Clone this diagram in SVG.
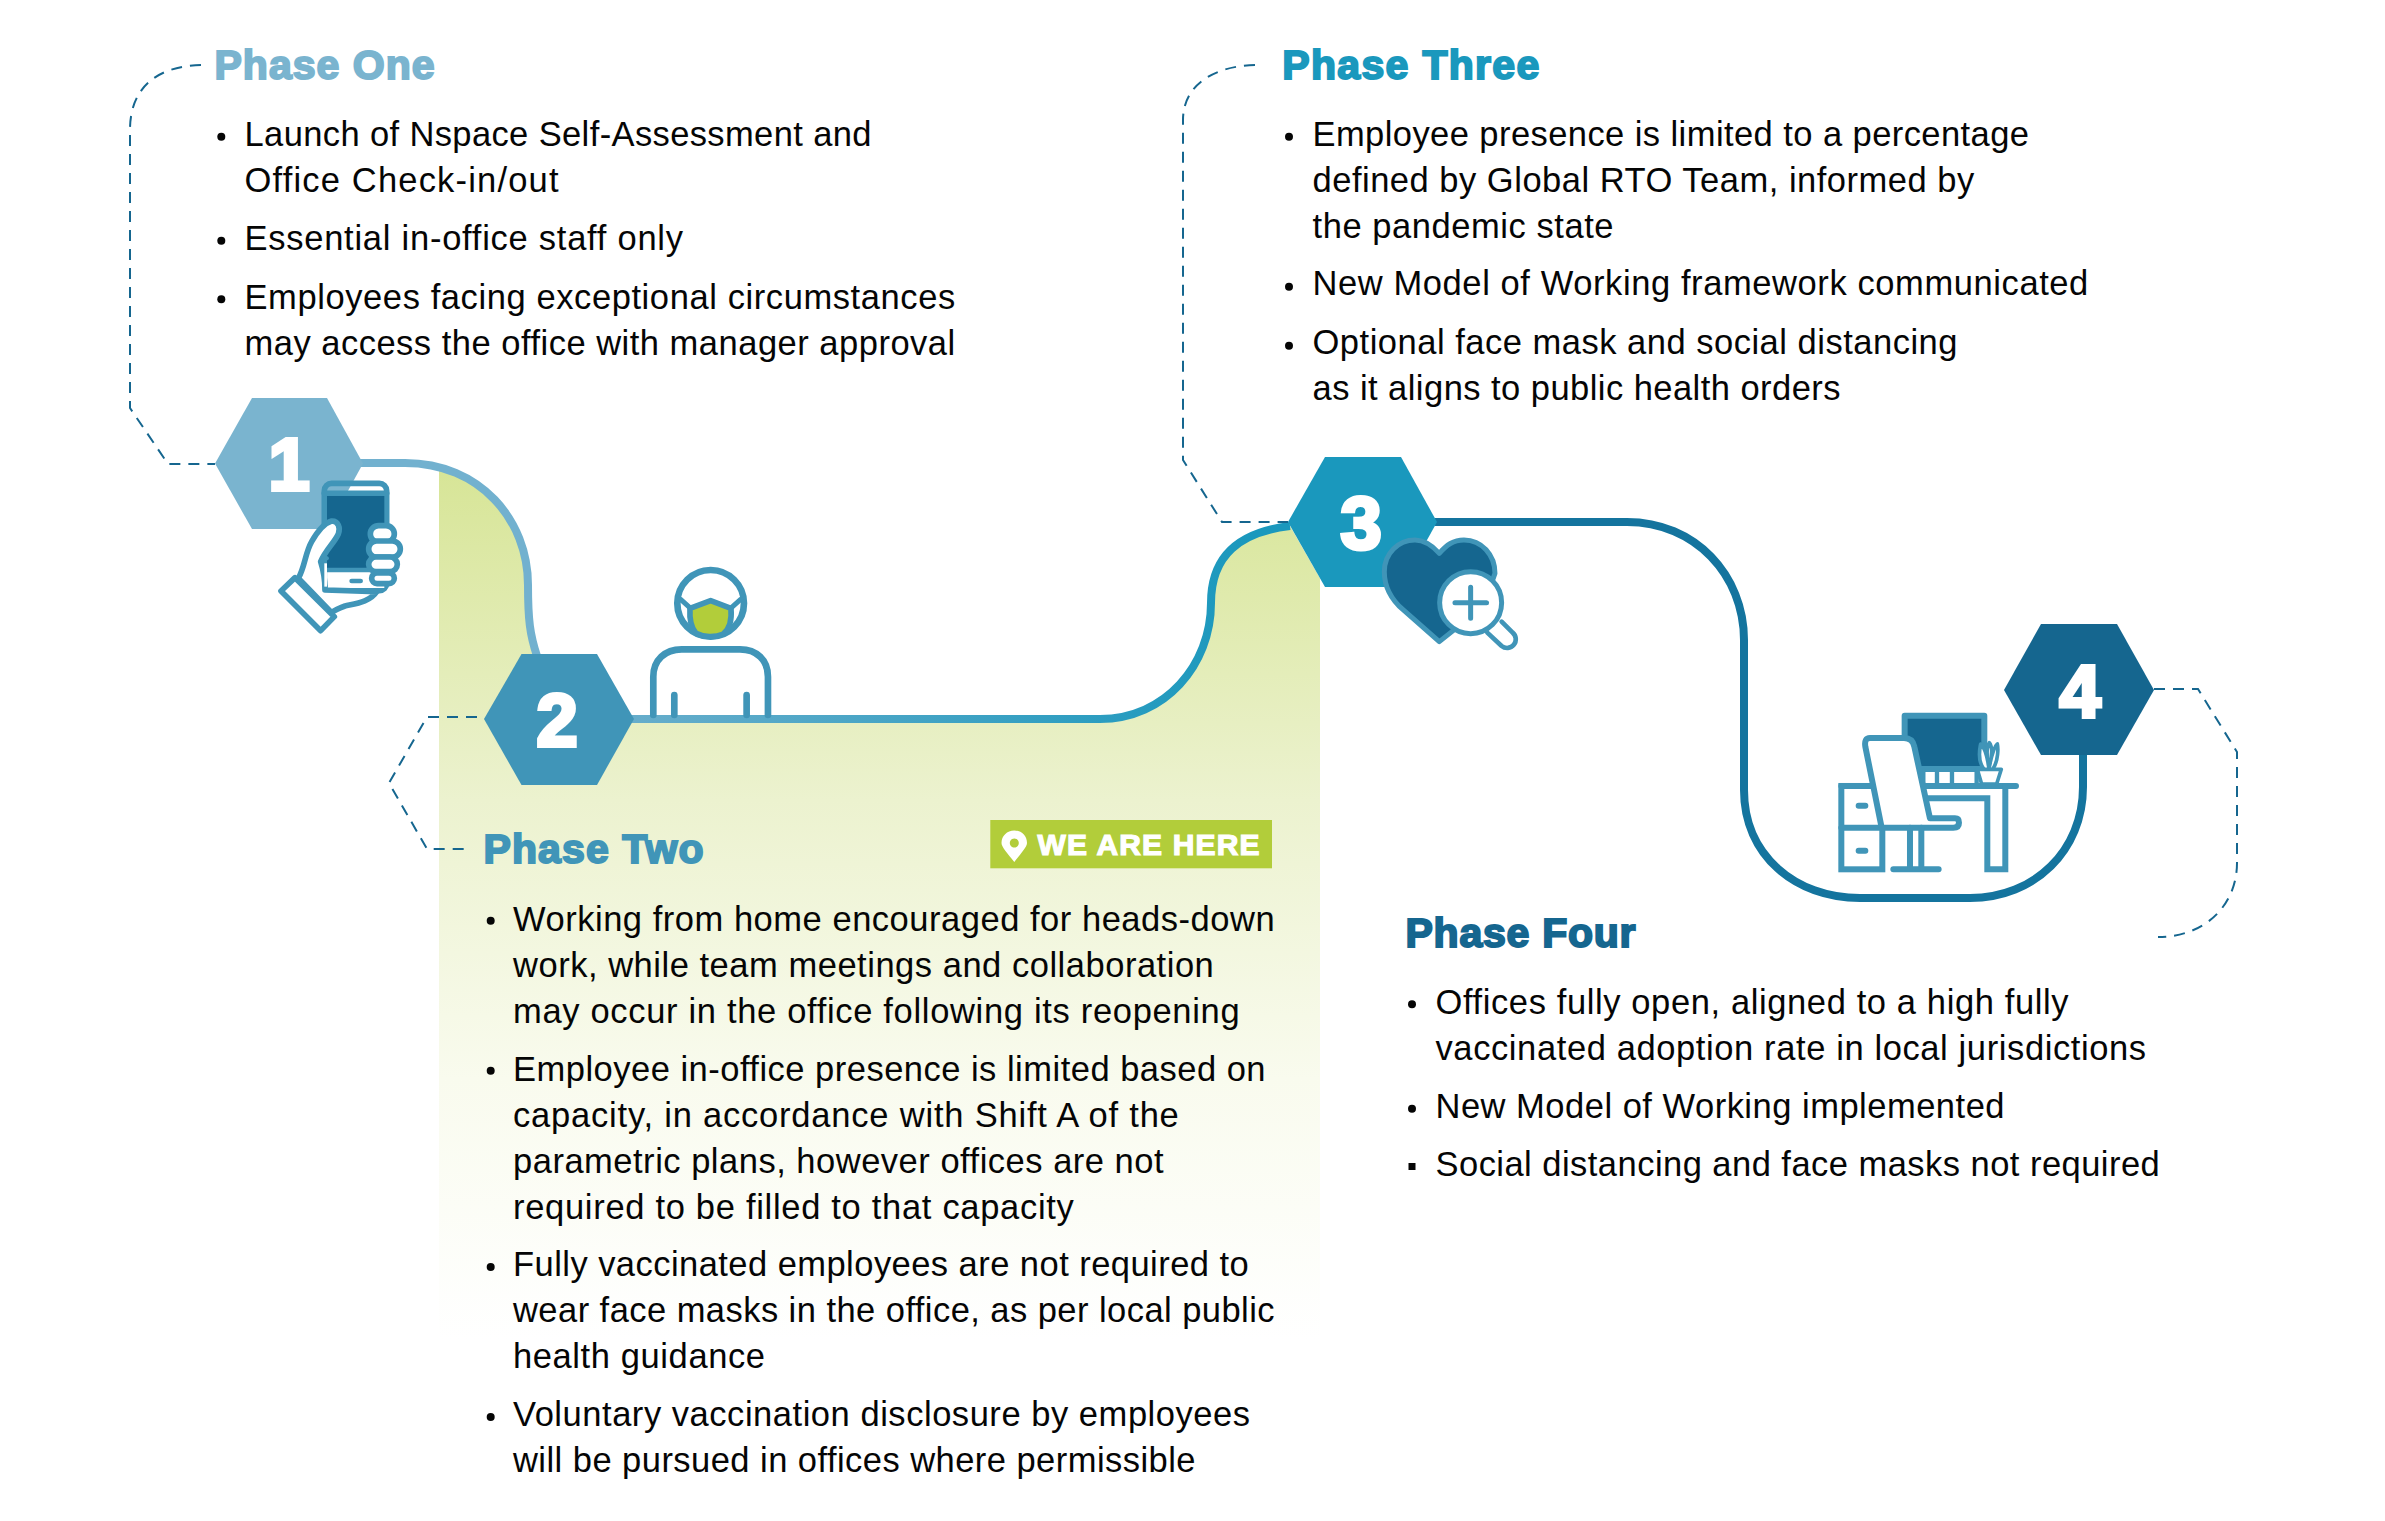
<svg xmlns="http://www.w3.org/2000/svg" width="2385" height="1521" viewBox="0 0 2385 1521">
<style>
text{font-family:"Liberation Sans",Arial,sans-serif}
.b{font-size:34.5px;fill:#050505}
.h{font-size:41px;font-weight:700;stroke-width:2px}
.d{font-size:74px;font-weight:700;fill:#fff;stroke:#fff;stroke-width:4px;text-anchor:middle}
.dot{fill:#050505}
.dash{fill:none;stroke:#15668f;stroke-width:2;stroke-dasharray:11 8}
.conn{fill:none;stroke-width:8}
.ic{stroke:#4095b8;stroke-linejoin:round;stroke-linecap:round}
</style>
<defs>
<linearGradient id="gr" gradientUnits="userSpaceOnUse" x1="0" y1="470" x2="0" y2="1340">
<stop offset="0" stop-color="#d7e597"/><stop offset=".38" stop-color="#ecf2cf"/><stop offset=".7" stop-color="#f9fbee"/><stop offset="1" stop-color="#fff"/>
</linearGradient>
<linearGradient id="c23" gradientUnits="userSpaceOnUse" x1="634" y1="0" x2="1250" y2="0">
<stop offset="0" stop-color="#66adcb"/><stop offset="1" stop-color="#1a98bd"/>
</linearGradient>
<clipPath id="gc"><rect x="439" y="400" width="881" height="1000"/></clipPath>
</defs>
<path clip-path="url(#gc)" fill="url(#gr)" d="M405 465C480 465 528 520 528 585C528 620 530 635 537 656L634 719H1100C1165 719 1211 665 1211 603C1211 555 1240 532 1290 526L1325 587V1400H439V465Z"/>
<g id="connectors">
<path class="conn" stroke="#72b1cf" d="M360 463H405C480 463 528 520 528 585C528 620 530 635 537 656"/>
<path class="conn" stroke="url(#c23)" d="M630 719H1100C1165 719 1211 665 1211 603C1211 555 1240 532 1290 526"/>
<path class="conn" stroke="#14749e" d="M1435 522H1627C1695 522 1744 575 1744 640V790C1744 855 1795 898 1860 898H1970C2035 898 2083 850 2083 787V752"/>
<path class="dash" d="M201 65C160 66 130 85 130 130V408L168 464H215"/>
<path class="dash" d="M477 717H427L389 783L427 849H470"/>
<path class="dash" d="M1255 65C1214 66 1183 85 1183 120V460L1222 522H1288"/>
<path class="dash" d="M2154 689H2198L2237 752V863C2237 905 2205 937 2158 937"/>
</g>
<g id="node-1">
<polygon fill="#7ab4cf" points="215,463.5 252,398 327,398 363,463.5 327,529 252,529"/>
<text class="d" x="289" y="490">1</text>
<g transform="translate(230 390) scale(.3333)" class="ic">
<rect x="283" y="280" width="187" height="322" rx="22" fill="none" stroke-width="17"/>
<path d="M283 310H470" fill="none" stroke-width="17"/>
<rect x="291" y="318" width="172" height="222" fill="#15668f" stroke="none"/>
<path d="M293 540H463V594H293Z" fill="#fff" stroke="none"/>
<path d="M283 540H470" fill="none" stroke-width="14"/>
<path d="M365 573H392" fill="none" stroke-width="14"/>
<path d="M205 565C225 530 225 490 245 455C262 425 280 400 305 393C325 392 332 415 325 432C312 460 288 478 272 515C280 540 285 560 285 600L440 605C420 635 380 640 345 648C325 655 315 660 305 668Z" fill="#fff" stroke-width="17"/>
<rect x="283" y="520" width="8" height="70" fill="#fff" stroke="none"/>
<path d="M272 515L291 505" fill="none" stroke-width="12"/>
<rect x="421" y="407" width="72" height="50" rx="25" fill="#fff" stroke-width="17"/>
<rect x="416" y="453" width="95" height="48" rx="24" fill="#fff" stroke-width="17"/>
<rect x="416" y="501" width="86" height="44" rx="22" fill="#fff" stroke-width="17"/>
<rect x="425" y="549" width="68" height="32" rx="16" fill="#fff" stroke-width="17"/>
<polygon points="153,603 195,563 313,680 272,722" fill="#fff" stroke-width="17"/>
</g>
<text class="h" x="214.5" y="79.3" fill="#7ab4cf" stroke="#7ab4cf" textLength="220">Phase One</text>
<circle class="dot" cx="221.3" cy="136.7" r="4"/>
<circle class="dot" cx="221.3" cy="240.7" r="4"/>
<circle class="dot" cx="221.3" cy="299.3" r="4"/>
<text class="b" x="244.5" y="146" textLength="627">Launch of Nspace Self-Assessment and</text>
<text class="b" x="244.5" y="192" textLength="314">Office Check-in/out</text>
<text class="b" x="244.5" y="250" textLength="438.5">Essential in-office staff only</text>
<text class="b" x="244.5" y="308.7" textLength="710.7">Employees facing exceptional circumstances</text>
<text class="b" x="244.5" y="354.7" textLength="710.7">may access the office with manager approval</text>
</g>
<g id="node-2">
<polygon fill="#4095b8" points="484,719 521.5,654 597,654 634,719 597,785 521.5,785"/>
<text class="d" x="557" y="745.5">2</text>
<g transform="translate(360 540) scale(.3333)" class="ic" fill="none" stroke-width="20">
<circle cx="1052" cy="190" r="100"/>
<path d="M962 178L992 205M1142 178L1112 205" stroke-width="15"/>
<path d="M990 205L1052 182L1113 205C1116 240 1108 268 1090 282C1065 293 1030 292 1008 280C995 265 988 240 990 205Z" fill="#b2cd3a" stroke-width="17"/>
<path d="M880 525V410C880 360 915 328 965 328H1140C1190 328 1224 360 1224 410V525"/>
<path d="M943 465V525M1160 465V525"/>
</g>
<text class="h" x="483.5" y="863" fill="#4095b8" stroke="#4095b8" textLength="220">Phase Two</text>
<rect x="990.3" y="820" width="281.7" height="48.3" fill="#b2cd3a"/>
<path fill="#fff" fill-rule="evenodd" d="M1014.3 862C1008 854 1001.5 847 1001.5 843C1001.5 836 1007 830.5 1014.3 830.5C1021.5 830.5 1027 836 1027 843C1027 847 1020.5 854 1014.3 862ZM1014.3 838.5a4.5 4.5 0 1 0 .01 0Z"/>
<text x="1037.5" y="854.7" font-size="30" font-weight="700" fill="#fff" stroke="#fff" stroke-width="1.2" textLength="222">WE ARE HERE</text>
<circle class="dot" cx="490.7" cy="920.7" r="4"/>
<circle class="dot" cx="490.7" cy="1070.7" r="4"/>
<circle class="dot" cx="490.7" cy="1267" r="4"/>
<circle class="dot" cx="490.7" cy="1417" r="4"/>
<text class="b" x="513" y="930.5" textLength="761.6">Working from home encouraged for heads-down</text>
<text class="b" x="513" y="976.5" textLength="700.8">work, while team meetings and collaboration</text>
<text class="b" x="513" y="1022.5" textLength="726.6">may occur in the office following its reopening</text>
<text class="b" x="513" y="1080.5" textLength="752.5">Employee in-office presence is limited based on</text>
<text class="b" x="513" y="1126.5" textLength="665.8">capacity, in accordance with Shift A of the</text>
<text class="b" x="513" y="1172.5" textLength="650.6">parametric plans, however offices are not</text>
<text class="b" x="513" y="1218.5" textLength="560.8">required to be filled to that capacity</text>
<text class="b" x="513" y="1275.8" textLength="735.7">Fully vaccinated employees are not required to</text>
<text class="b" x="513" y="1321.8" textLength="761.6">wear face masks in the office, as per local public</text>
<text class="b" x="513" y="1367.8" textLength="252">health guidance</text>
<text class="b" x="513" y="1426" textLength="737">Voluntary vaccination disclosure by employees</text>
<text class="b" x="513" y="1472" textLength="682.5">will be pursued in offices where permissible</text>
</g>
<g id="node-3">
<polygon fill="#1a98bd" points="1288,522 1325,457 1401,457 1437,522 1401,587 1325,587"/>
<text class="d" x="1361" y="549">3</text>
<g transform="translate(1150 440) scale(.3333)" class="ic">
<path d="M1055 545L1088 578A23 23 0 0 1 1055 618L1012 578" fill="#fff" stroke-width="14"/>
<path d="M868 605L760 510C720 475 703 440 703 395C703 340 745 300 795 300C825 300 850 320 868 340C890 315 910 300 942 300C995 300 1035 345 1035 400L1000 500Z" fill="#15668f" stroke-width="15"/>
<circle cx="962" cy="488" r="93" fill="#fff" stroke-width="15"/>
<path d="M915 488H1010M962 442V535" fill="none" stroke-width="15"/>
</g>
<text class="h" x="1282.3" y="79.3" fill="#1a98bd" stroke="#1a98bd" textLength="257">Phase Three</text>
<circle class="dot" cx="1289" cy="136.7" r="4"/>
<circle class="dot" cx="1289" cy="286.7" r="4"/>
<circle class="dot" cx="1289" cy="345.7" r="4"/>
<text class="b" x="1312.5" y="146" textLength="716.5">Employee presence is limited to a percentage</text>
<text class="b" x="1312.5" y="191.5" textLength="661.7">defined by Global RTO Team, informed by</text>
<text class="b" x="1312.5" y="237.5" textLength="301">the pandemic state</text>
<text class="b" x="1312.5" y="295.3" textLength="775.8">New Model of Working framework communicated</text>
<text class="b" x="1312.5" y="354" textLength="645">Optional face mask and social distancing</text>
<text class="b" x="1312.5" y="400" textLength="528">as it aligns to public health orders</text>
</g>
<g id="node-4">
<polygon fill="#15668f" points="2004,690 2041,624 2117,624 2154,690 2117,755 2041,755"/>
<text class="d" x="2080" y="716.5">4</text>
<g transform="translate(1780 600) scale(.3333)" class="ic" fill="none" stroke-width="18">
<path d="M374 347H613V507H374Z" fill="#15668f"/>
<path d="M471 507V555M516 507V555M430 507V555M590 507V555" stroke-width="13" stroke-linecap="butt"/>
<path d="M184 558H708"/>
<rect x="184" y="558" width="123" height="250" stroke-linejoin="miter"/>
<path d="M184 683H307M236 617H256M236 752H256"/>
<path d="M440 595H622V808H676V558" stroke-linejoin="miter"/>
<path d="M270 414H372Q398 414 403 440L450 655H525Q537 655 537 668Q537 683 520 683H305L256 440Q252 414 270 414Z" fill="#fff"/>
<path d="M390 683V808M424 683V808M340 808H476"/>
<path d="M612 508C590 480 600 445 602 432C612 440 622 470 627 505M627 505C620 470 620 440 628 428C638 440 636 470 627 505M640 505C655 480 655 445 652 432C642 440 635 465 627 505" fill="#fff" stroke-width="11"/>
<path d="M592 508H664L650 552H605Z" fill="#fff" stroke-width="11"/>
</g>
<text class="h" x="1405.5" y="946.7" fill="#15668f" stroke="#15668f" textLength="230">Phase Four</text>
<circle class="dot" cx="1412" cy="1004.3" r="4"/>
<circle class="dot" cx="1412" cy="1108.7" r="4"/>
<rect class="dot" x="1408.5" y="1163" width="7" height="7"/>
<text class="b" x="1435.5" y="1014" textLength="633">Offices fully open, aligned to a high fully</text>
<text class="b" x="1435.5" y="1060" textLength="710.6">vaccinated adoption rate in local jurisdictions</text>
<text class="b" x="1435.5" y="1117.7" textLength="569">New Model of Working implemented</text>
<text class="b" x="1435.5" y="1175.7" textLength="724.3">Social distancing and face masks not required</text>
</g>
</svg>
